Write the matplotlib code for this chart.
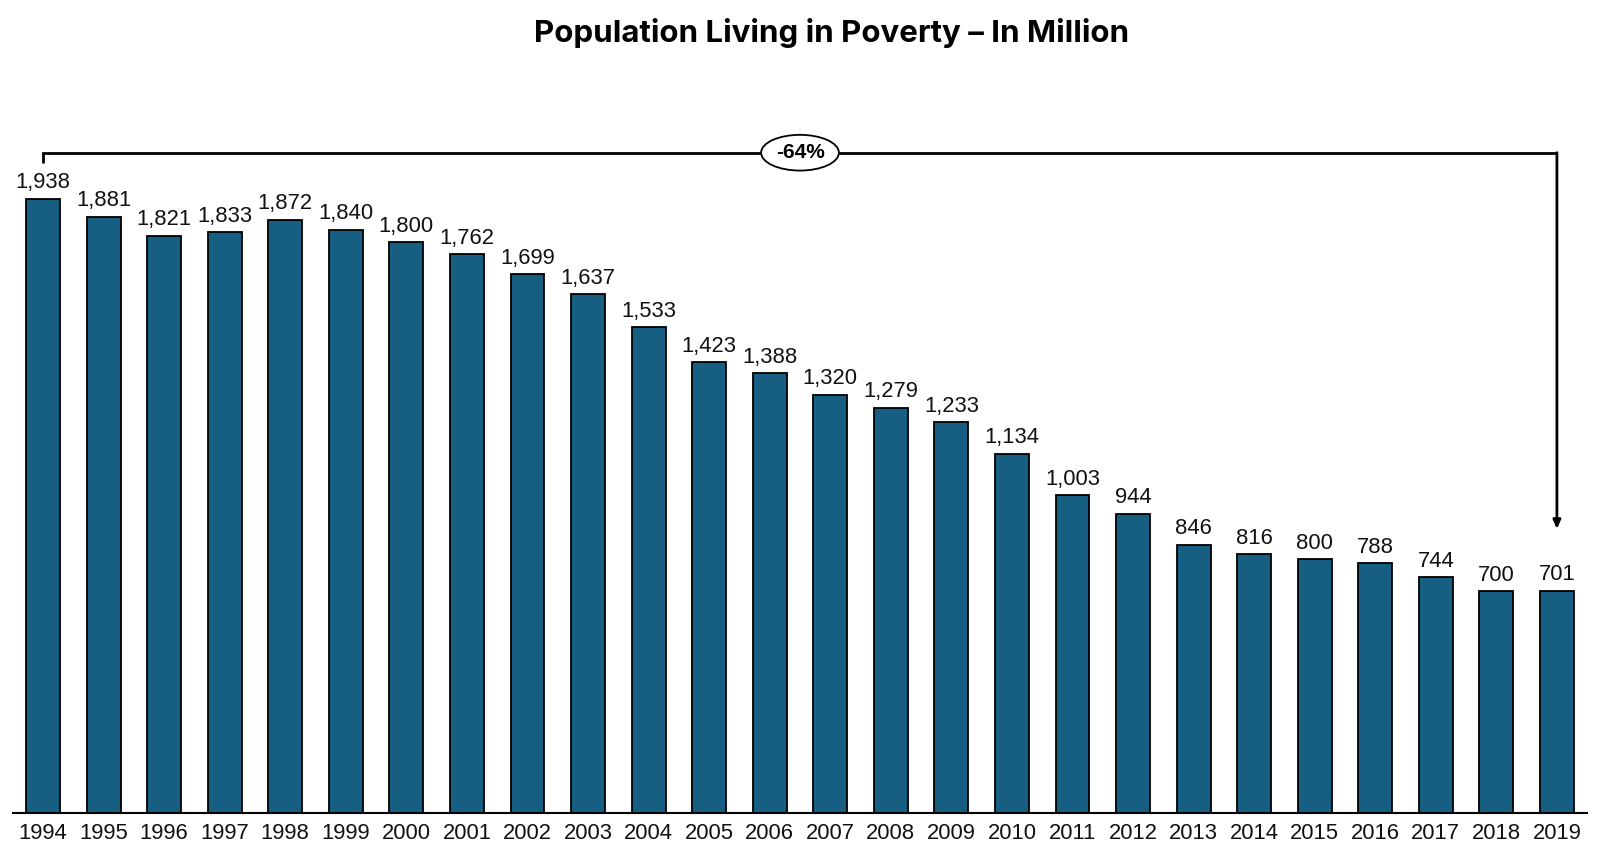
import matplotlib
matplotlib.use("Agg")
import matplotlib.pyplot as plt
import numpy as np

years = [str(y) for y in range(1994, 2020)]
poverty = [1938, 1881, 1821, 1833, 1872, 1840, 1800, 1762, 1699, 1637,
           1533, 1423, 1388, 1320, 1279, 1233, 1134, 1003, 944, 846,
           816, 800, 788, 744, 700, 701]
change_label = "-64%"

bar_color = "#175F82"
plt.rcParams['font.family'] = ['Liberation Sans', 'DejaVu Sans']

fig = plt.figure(figsize=(16, 8.6), dpi=100)
ax = fig.add_axes([0.008, 0.0547, 0.984, 0.8293])

x = np.arange(len(years))
ax.bar(x, poverty, width=0.56, color=bar_color, edgecolor="black", linewidth=1.3, zorder=2)

for xi, v in zip(x, poverty):
    ax.text(xi, v + 17, f"{v:,}", ha="center", va="bottom", fontsize=15.8, color="#111111")

ax.set_xlim(-0.5, len(years) - 0.5)
ax.set_ylim(0, 2250)
ax.set_xticks(x)
ax.set_xticklabels(years, fontsize=15.8, color="#111111")
ax.tick_params(axis="x", length=0, pad=7)
ax.set_yticks([])
for s in ["top", "right", "left"]:
    ax.spines[s].set_visible(False)
ax.spines["bottom"].set_linewidth(1.5)
ax.spines["bottom"].set_color("black")

# bracket with change annotation
top_y = 2083
ax.plot([x[0], x[0], x[-1]], [2052, top_y, top_y], color="black", lw=2,
        solid_joinstyle="miter", solid_capstyle="butt")
ax.annotate("", xy=(x[-1], poverty[-1] + 195), xytext=(x[-1], top_y),
            arrowprops=dict(arrowstyle="-|>,head_length=0.5,head_width=0.22",
                            color="black", lw=2, shrinkA=0, shrinkB=0))
ax.text((x[0] + x[-1]) / 2, top_y, change_label, ha="center", va="center",
        fontsize=15, fontweight="bold",
        bbox=dict(boxstyle="ellipse,pad=0.15", fc="white", ec="black", lw=1.3))

fig.text(0.52, 0.962, "Population Living in Poverty – In Million", ha="center", va="center",
         fontsize=22.5, fontweight="bold", family=["Inter", "DejaVu Sans"])

fig.savefig("out.png", dpi=100)
